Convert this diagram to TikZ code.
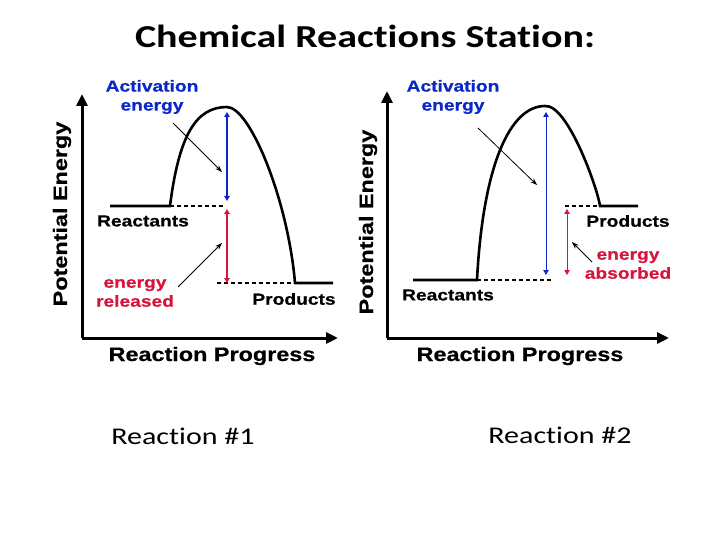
\documentclass[tikz,border=0pt]{standalone}
\usepackage{fontspec}
\usepackage{tikz}
\usepackage{xcolor}
\usetikzlibrary{arrows.meta,positioning,calc}
\setmainfont{Carlito}[FakeStretch=1.25,Ligatures=NoCommon]
\newfontfamily\plotfont{Liberation Sans}[FakeStretch=1.2,FakeBold=0.6]
\definecolor{activationBlue}{RGB}{10,40,200}
\definecolor{energyRed}{RGB}{215,20,60}

\tikzset{
  axis/.style={line width=3pt,-{Triangle[length=12pt,width=11pt]}},
  curve/.style={line width=2.6pt},
  level/.style={dashed,line width=1.1pt,dash pattern=on 4pt off 3pt},
  gap/.style={line width=2pt,{Triangle[length=5pt,width=5.5pt]}-{Triangle[length=5pt,width=5.5pt]}},
  pointer/.style={line width=0.8pt,-{Stealth[length=7pt,width=5pt]}},
  lbl/.style={font=\plotfont\bfseries\fontsize{16}{19}\selectfont,align=center,inner sep=0pt},
  axlbl/.style={font=\plotfont\bfseries\fontsize{19.5}{21}\selectfont,inner sep=0pt},
}

\begin{document}
\begin{tikzpicture}[x=1pt,y=-1pt]
\useasboundingbox (0,0) rectangle (720,540);

% title
\node[font=\bfseries\fontsize{32}{36}\selectfont] (title) at (365,36) {Chemical Reactions Station:};

% Reaction 1 (exothermic)
\coordinate (o1) at (82,338);
\draw[axis] (o1) -- (82,94);
\draw[axis] (o1) -- (338,338);
\coordinate (r1a) at (110,206);
\coordinate (r1b) at (170,206);
\coordinate (pk1) at (227,107);
\coordinate (p1a) at (295,283);
\coordinate (p1b) at (333,283);
\draw[curve] (r1a) -- (r1b) .. controls (179,135) and (196,107) .. (pk1)
  .. controls (250,107) and (288,200) .. (p1a) -- (p1b);
\coordinate (d1a) at (224,206);
\coordinate (d1b) at (217,283);
\draw[level] (r1b) -- (d1a);
\draw[level] (d1b) -- (p1a);
\coordinate (ea1t) at (227,112);
\coordinate (ea1b) at (227,201);
\coordinate (er1t) at (227,209);
\coordinate (er1b) at (227,283);
\draw[gap,activationBlue] (ea1t) -- (ea1b);
\draw[gap,energyRed] (er1t) -- (er1b);
\node[lbl,text=activationBlue] (act1) at (152,97) {Activation\\energy};
\node[lbl] (rea1) at (143,221) {Reactants};
\node[lbl,text=energyRed] (rel1) at (135,293) {energy\\released};
\node[lbl] (pro1) at (294,299) {Products};
\coordinate (a1s) at (173,123);
\coordinate (a1e) at (222,172);
\coordinate (e1s) at (178,287);
\coordinate (e1e) at (222,243);
\draw[pointer] (a1s) -- (a1e);
\draw[pointer] (e1s) -- (e1e);
\node[axlbl,rotate=90] (pe1) at (62,214) {Potential Energy};
\node[axlbl] (rp1) at (212,356) {Reaction Progress};

% Reaction 2 (endothermic)
\coordinate (o2) at (387,338);
\draw[axis] (o2) -- (387,91);
\draw[axis] (o2) -- (669,338);
\coordinate (r2a) at (413,280);
\coordinate (r2b) at (477,280);
\coordinate (pk2) at (545,106);
\coordinate (p2a) at (600,206);
\coordinate (p2b) at (638,206);
\draw[curve] (r2a) -- (r2b) .. controls (483,165) and (510,106) .. (pk2)
  .. controls (568,104) and (598,190) .. (p2a) -- (p2b);
\coordinate (d2a) at (551,280);
\coordinate (d2b) at (565,206);
\draw[level] (r2b) -- (d2a);
\draw[level] (d2b) -- (p2a);
\coordinate (ea2t) at (546,112);
\coordinate (ea2b) at (546,275);
\coordinate (ea3t) at (567,209);
\coordinate (ea3b) at (567,275);
\draw[gap,line width=1pt,activationBlue] (ea2t) -- (ea2b);
\draw[gap,line width=1pt,energyRed] (ea3t) -- (ea3b);
\node[lbl,text=activationBlue] (act2) at (453,97) {Activation\\energy};
\node[lbl] (pro2) at (628,221) {Products};
\node[lbl,text=energyRed] (abs2) at (628,265) {energy\\absorbed};
\node[lbl] (rea2) at (448,295) {Reactants};
\coordinate (a2s) at (478,128);
\coordinate (a2e) at (537,185);
\coordinate (e2s) at (592,262);
\coordinate (e2e) at (572,242);
\draw[pointer] (a2s) -- (a2e);
\draw[pointer] (e2s) -- (e2e);
\node[axlbl,rotate=90] (pe2) at (368,222) {Potential Energy};
\node[axlbl] (rp2) at (520,356) {Reaction Progress};

% captions
\node[font=\fontsize{24}{27}\selectfont] (cap1) at (183,436) {Reaction \#1};
\node[font=\fontsize{24}{27}\selectfont] (cap2) at (560,435) {Reaction \#2};
\end{tikzpicture}
\end{document}
